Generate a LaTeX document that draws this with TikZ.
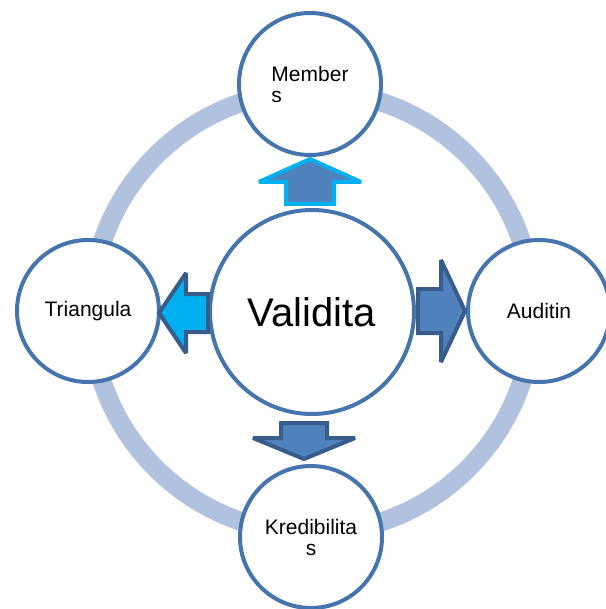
\documentclass[tikz,border=0pt]{standalone}
\usepackage{fontspec}
\setmainfont{Liberation Sans}
\definecolor{ringblue}{RGB}{176,194,222}
\definecolor{edgeblue}{RGB}{70,116,173}
\definecolor{boxblue}{RGB}{79,129,189}
\definecolor{darkblue}{RGB}{56,93,138}
\definecolor{skyblue}{RGB}{0,176,240}
\begin{document}
\begin{tikzpicture}[x=1pt, y=-1pt, every node/.style={font=\fontsize{21}{21}\selectfont}]
  \tikzstyle{ball}=[draw=edgeblue,fill=white,circle,line width=4,inner sep=0pt,minimum size=142pt,align=center]
  \tikzstyle{blk}=[line width=4,line join=miter,miter limit=1.6]
  \useasboundingbox (0,0) rectangle (605,609);
  \draw[ringblue,line width=19] (312,312) circle[radius=221pt];
  \node[ball,minimum size=204pt,font=\fontsize{40}{40}\selectfont] (valid) at (312,312) {Validita};
  \node[ball,align=left] (member) at (310,84) {Member\\s};
  \node[ball] (triang) at (88,311) {Triangula};
  \node[ball] (audit) at (539,311) {Auditin};
  \node[ball] (kred) at (311,537) {Kredibilita\\s};
  % block arrows
  \draw[blk,draw=skyblue,fill=boxblue] (286,204) -- (286,182) -- (259,182) -- (310,159) -- (361,182) -- (334,182) -- (334,204) -- cycle;
  \draw[blk,draw=darkblue,fill=skyblue] (208,294) -- (186,294) -- (186,273) -- (159,313) -- (186,353) -- (186,332) -- (208,332) -- cycle;
  \draw[blk,draw=darkblue,fill=boxblue] (418,289) -- (441,289) -- (441,260) -- (465,311) -- (441,362) -- (441,333) -- (418,333) -- cycle;
  \draw[blk,draw=darkblue,fill=boxblue] (281,423) -- (327,423) -- (327,438) -- (355,438) -- (304,459) -- (253,438) -- (281,438) -- cycle;
\end{tikzpicture}
\end{document}
